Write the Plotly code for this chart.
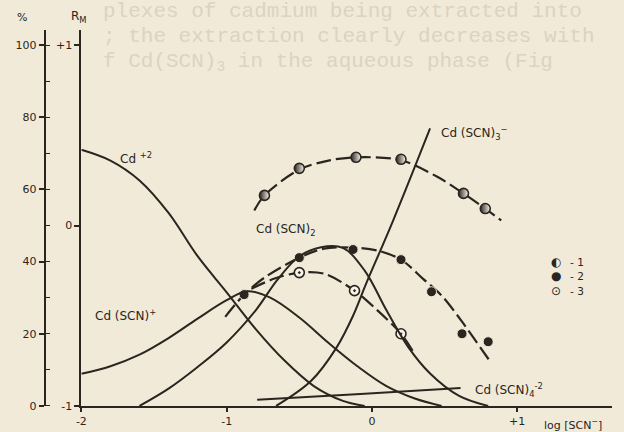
import plotly.graph_objects as go

W, H = 624, 432          # target picture size
H_PAGE = 440             # page height: the photo is taken of a slightly taller strip
INK = "#2b2520"
PAPER = "#f1ead8"
FONT = "DejaVu Sans"

# ---- distribution curves (%), x = log[SCN-]
cd2_x = [-2.0, -1.8, -1.6, -1.4, -1.2, -1.0, -0.8, -0.6, -0.4, -0.2, -0.05]
cd2_y = [71.0, 68.0, 62.5, 53.5, 41.5, 31.5, 21.3, 12.5, 5.5, 1.4, 0.0]

cd1_x = [-2.0, -1.8, -1.6, -1.4, -1.2, -1.0, -0.86, -0.7, -0.5, -0.3, -0.1, 0.1, 0.3, 0.48]
cd1_y = [8.9, 11.0, 14.2, 18.8, 24.2, 29.3, 31.8, 30.0, 24.5, 17.5, 11.0, 5.5, 2.0, 0.0]

cdsc2_x = [-1.60, -1.4, -1.2, -1.0, -0.8, -0.65, -0.5, -0.35, -0.2, -0.05, 0.1, 0.25, 0.4, 0.6, 0.8]
cdsc2_y = [0.0, 4.8, 10.8, 17.6, 26.5, 35.0, 41.5, 44.0, 43.8, 37.5, 26.5, 16.3, 9.0, 2.8, 0.0]

cdsc3_x = [-0.66, -0.42, -0.245, -0.13, -0.04, 0.14, 0.40]
cdsc3_y = [0.0, 6.9, 16.1, 25.0, 33.9, 50.8, 76.9]

cdsc4_x = [-0.79, -0.08, 0.61]
cdsc4_y = [1.7, 3.3, 5.0]

# ---- R_M experimental series
s1_x = [-0.74, -0.50, -0.11, 0.20, 0.63, 0.78]
s1_y = [0.167, 0.317, 0.378, 0.367, 0.178, 0.094]
s1_fit_x = [-0.81, -0.74, -0.50, -0.30, -0.11, 0.20, 0.45, 0.63, 0.78, 0.89]
s1_fit_y = [0.083, 0.167, 0.31, 0.36, 0.378, 0.362, 0.27, 0.178, 0.094, 0.028]

s2_x = [-0.88, -0.50, -0.13, 0.20, 0.41, 0.62, 0.80]
s2_y = [-0.383, -0.178, -0.133, -0.189, -0.367, -0.600, -0.644]
s2_fit_x = [-1.01, -0.88, -0.74, -0.50, -0.33, -0.13, 0.04, 0.20, 0.35, 0.48, 0.62, 0.82]
s2_fit_y = [-0.506, -0.383, -0.289, -0.178, -0.128, -0.122, -0.139, -0.189, -0.294, -0.389, -0.533, -0.761]

s3_x = [-0.50, -0.12, 0.20]
s3_y = [-0.261, -0.361, -0.600]
s3_fit_x = [-0.83, -0.67, -0.50, -0.33, -0.12, 0.04, 0.20, 0.28]
s3_fit_y = [-0.350, -0.294, -0.261, -0.267, -0.361, -0.472, -0.600, -0.694]

series_names = ["- 1", "- 2", "- 3"]
series_glyphs = ["◐", "●", "⊙"]

x_ticks = [-2, -1, 0, 1]
x_tick_text = ["-2", "-1", "0", "+1"]
pct_ticks = [0, 20, 40, 60, 80, 100]
rm_ticks = [-1, 0, 1]
rm_tick_text = ["-1", "0", "+1"]

fig = go.Figure()

for xs, ys in [(cd2_x, cd2_y), (cd1_x, cd1_y), (cdsc2_x, cdsc2_y), (cdsc3_x, cdsc3_y), (cdsc4_x, cdsc4_y)]:
    fig.add_trace(go.Scatter(x=xs, y=ys, yaxis="y2", mode="lines",
                             line=dict(color=INK, width=2, shape="spline", smoothing=1.0),
                             showlegend=False, hoverinfo="skip"))

for fx, fy in [(s1_fit_x, s1_fit_y), (s2_fit_x, s2_fit_y), (s3_fit_x, s3_fit_y)]:
    fig.add_trace(go.Scatter(x=fx, y=fy, yaxis="y", mode="lines",
                             line=dict(color=INK, width=2.2, dash="15px,5px", shape="spline", smoothing=0.9),
                             showlegend=False, hoverinfo="skip"))

fig.add_trace(go.Scatter(x=s1_x, y=s1_y, yaxis="y", mode="markers", name=series_names[0], showlegend=False,
                         marker=dict(symbol="circle", size=10, color=INK,
                                     gradient=dict(type="horizontal", color="#faf7ee"),
                                     line=dict(color=INK, width=1.6))))
fig.add_trace(go.Scatter(x=s2_x, y=s2_y, yaxis="y", mode="markers", name=series_names[1], showlegend=False,
                         marker=dict(symbol="circle", size=10, color=INK,
                                     line=dict(color=PAPER, width=1))))
fig.add_trace(go.Scatter(x=s3_x, y=s3_y, yaxis="y", mode="markers", name=series_names[2], showlegend=False,
                         marker=dict(symbol="circle-dot", size=10, color="#f7f3e8",
                                     line=dict(color=INK, width=1.6))))


def px(xp):
    return xp / W


def py(yp):
    return 1 - yp / H


tf = dict(family=FONT, size=11, color=INK)
ann = []


def label(text, x, y, size=11, color=INK, family=FONT, anchor="left"):
    ann.append(dict(text=text, xref="paper", yref="paper", x=px(x), y=py(y),
                    xanchor=anchor, yanchor="middle", showarrow=False,
                    font=dict(family=family, size=size, color=color)))


# faint show-through text from the printed page (drawn first, underneath)
ghost = "#dcd3c0"
label("plexes of cadmium being extracted into", 97, 11, size=21, color=ghost, family="Liberation Mono")
label("; the extraction clearly decreases with", 97, 36, size=21, color=ghost, family="Liberation Mono")
label("f Cd(SCN)<sub>3</sub> in the aqueous phase (Fig", 97, 62, size=21, color=ghost, family="Liberation Mono")

label("Cd <sup>+2</sup>", 114, 158, size=12)
label("Cd (SCN)<sup>+</sup>", 89, 314, size=12)
label("Cd (SCN)<sub>2</sub>", 251, 229, size=12)
label("Cd (SCN)<sub>3</sub><sup>−</sup>", 438, 133, size=12)
label("Cd (SCN)<sub>4</sub><sup>-2</sup>", 472, 389, size=12)
label("log [SCN<sup>−</sup>]", 541, 424, size=11)
label("%", 10, 17, size=11)
label("R<sub>M</sub>", 65, 17, size=12)

# legend drawn as text: glyph + series name
for i, (g, n) in enumerate(zip(series_glyphs, series_names)):
    yy = 261 + 14.5 * i
    label(g, 555, yy, size=12, anchor="center")
    label(n, 568, yy, size=10.5)

axis_common = dict(showgrid=False, zeroline=False, showline=True, linecolor=INK, linewidth=1.8,
                   ticks="outside", tickcolor=INK, tickwidth=1.5, tickfont=tf)

fig.update_layout(
    width=W, height=H_PAGE, margin=dict(l=0, r=0, t=0, b=0),
    paper_bgcolor=PAPER, plot_bgcolor=PAPER,
    showlegend=False,
    xaxis=dict(domain=[77 / W, 612 / W], range=[-2, 1.653], tickvals=x_ticks, ticktext=x_tick_text,
               ticklen=4, **axis_common),
    yaxis=dict(domain=[27 / H, 402 / H], range=[-1, 1.0833], tickvals=rm_ticks, ticktext=rm_tick_text,
               ticklen=5, **axis_common),
    yaxis2=dict(overlaying="y", anchor="free", position=40 / W, side="left", range=[0, 104.17],
                tickvals=pct_ticks, ticklen=5,
                minor=dict(dtick=10, ticks="inside", ticklen=4, tickcolor=INK, tickwidth=1.3),
                **axis_common),
    annotations=ann,
)

page_js = ("document.documentElement.style.margin='0';document.documentElement.style.padding='0';"
           "document.documentElement.style.overflow='hidden';"
           "document.body.style.margin='0';document.body.style.padding='0';"
           "document.body.style.overflow='hidden';document.body.style.background='%s';" % PAPER)

fig.write_html("out.html", config={"displayModeBar": False}, post_script=page_js)
